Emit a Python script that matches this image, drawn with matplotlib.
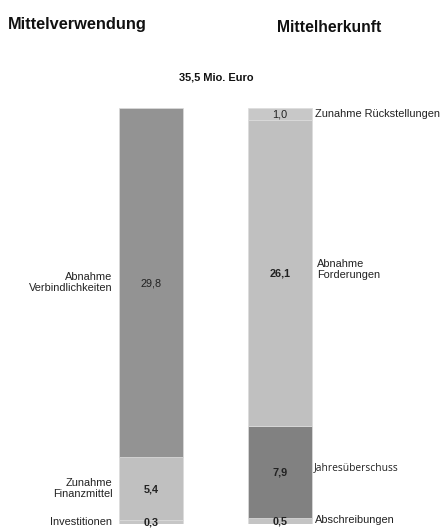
import matplotlib.pyplot as plt
import numpy as np

plt.rcParams['font.family'] = ['Liberation Sans', 'DejaVu Sans']

# Mittelverwendung (bottom to top)
use_labels = ["Investitionen", "Zunahme\nFinanzmittel", "Abnahme\nVerbindlichkeiten"]
use_values = [0.3, 5.4, 29.8]
use_text = ["0,3", "5,4", "29,8"]
use_colors = ["#c6c6c6", "#c0c0c0", "#939393"]
use_bold = [True, True, False]

# Mittelherkunft (bottom to top)
src_labels = ["Abschreibungen", "Jahresüberschuss", "Abnahme\nForderungen", "Zunahme Rückstellungen"]
src_values = [0.5, 7.9, 26.1, 1.0]
src_text = ["0,5", "7,9", "26,1", "1,0"]
src_colors = ["#c4c4c4", "#818181", "#c0c0c0", "#c8c8c8"]
src_bold = [True, True, True, False]

total = "35,5 Mio. Euro"

fig = plt.figure(figsize=(4.42, 5.29), dpi=100)
ax = fig.add_axes([0, 5 / 529, 1, 416 / 529])
ax.set_xlim(-151 / 129, (442 - 151) / 129)
ax.set_ylim(0, sum(use_values))
ax.axis("off")

w = 64 / 129
lab_size = 7.9

bottom = 0
for lab, v, t, c, b in zip(use_labels, use_values, use_text, use_colors, use_bold):
    ax.bar(0, v, width=w, bottom=bottom, color=c, edgecolor="#dcdcdc", linewidth=0.5)
    mid = bottom + v / 2
    ax.text(0, mid - 0.05, t, ha="center", va="center", fontsize=7.8,
            fontweight="bold" if b else "normal", color="#222222")
    ax.text(-0.3, mid, lab, ha="right", va="center", fontsize=lab_size, color="#222222",
            linespacing=1.1)
    bottom += v

bottom = 0
for lab, v, t, c, b in zip(src_labels, src_values, src_text, src_colors, src_bold):
    ax.bar(1, v, width=w, bottom=bottom, color=c, edgecolor="#dcdcdc", linewidth=0.5)
    mid = bottom + v / 2
    ax.text(1, mid - 0.05, t, ha="center", va="center", fontsize=7.8,
            fontweight="bold" if b else "normal", color="#222222")
    bottom += v

# right side labels
ax.text(1.27, 35.0, src_labels[3], ha="left", va="center", fontsize=lab_size, color="#222222")
ax.text(1.29, 21.7, src_labels[2], ha="left", va="center", fontsize=lab_size, color="#222222",
        linespacing=1.1)
ax.text(1.26, 4.8, src_labels[1], ha="left", va="center", fontsize=7.4, color="#222222",
        family="Open Sans")
ax.text(1.27, 0.35, src_labels[0], ha="left", va="center", fontsize=lab_size, color="#222222")

fig.text(8 / 442, 1 - 25 / 529, "Mittelverwendung", ha="left", va="center",
         fontsize=11.8, fontweight="bold", color="#111111")
fig.text(329 / 442, 1 - 28 / 529, "Mittelherkunft", ha="center", va="center",
         fontsize=11.3, fontweight="bold", color="#111111")
fig.text(216 / 442, 1 - 78 / 529, total, ha="center", va="center",
         fontsize=7.9, fontweight="bold", color="#111111")

plt.savefig("out.png", dpi=100)
